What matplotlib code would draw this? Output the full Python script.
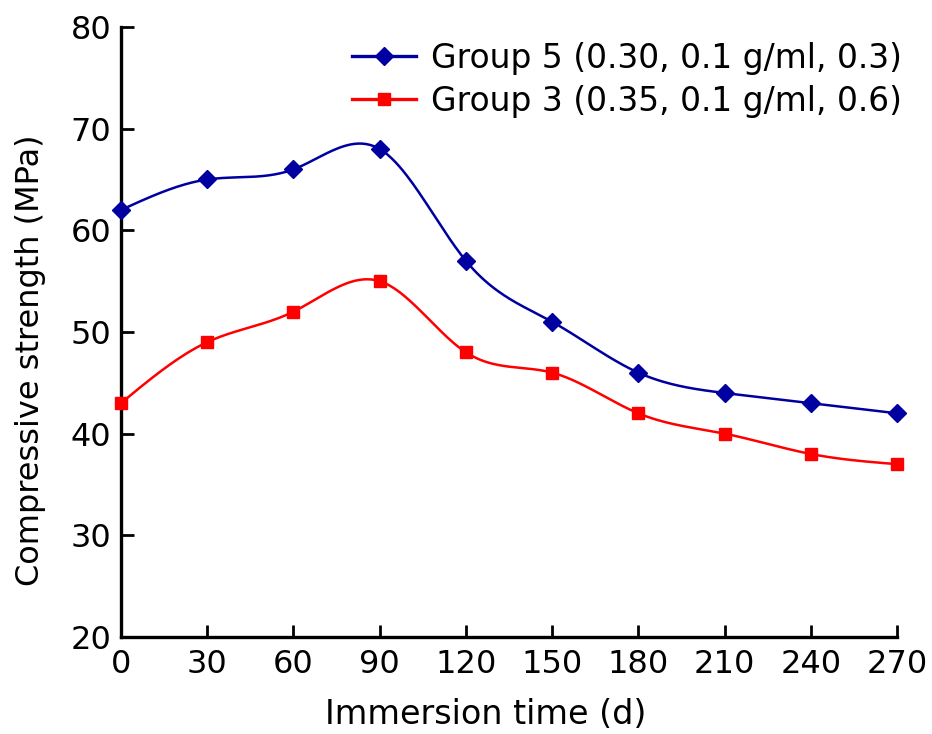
import matplotlib
matplotlib.use('Agg')
import matplotlib.pyplot as plt
import numpy as np

days = [0, 30, 60, 90, 120, 150, 180, 210, 240, 270]
group5 = [62, 65, 66, 68, 57, 51, 46, 44, 43, 42]
group3 = [43, 49, 52, 55, 48, 46, 42, 40, 38, 37]
labels = ['Group 5 (0.30, 0.1 g/ml, 0.3)', 'Group 3 (0.35, 0.1 g/ml, 0.6)']


def spline(x, y, n=400):
    # natural cubic spline, only used to draw the smooth line
    x = np.asarray(x, float)
    y = np.asarray(y, float)
    k = len(x)
    h = np.diff(x)
    A = np.zeros((k, k))
    b = np.zeros(k)
    A[0, 0] = A[-1, -1] = 1
    for i in range(1, k - 1):
        A[i, i - 1] = h[i - 1]
        A[i, i] = 2 * (h[i - 1] + h[i])
        A[i, i + 1] = h[i]
        b[i] = 6 * ((y[i + 1] - y[i]) / h[i] - (y[i] - y[i - 1]) / h[i - 1])
    m = np.linalg.solve(A, b)
    xs = np.linspace(x[0], x[-1], n)
    j = np.clip(np.searchsorted(x, xs) - 1, 0, k - 2)
    t = xs - x[j]
    hj = h[j]
    a = (m[j + 1] - m[j]) / (6 * hj)
    bb = m[j] / 2
    c = (y[j + 1] - y[j]) / hj - hj * (2 * m[j] + m[j + 1]) / 6
    ys = y[j] + c * t + bb * t ** 2 + a * t ** 3
    return xs, ys


plt.rcParams['font.family'] = ['DejaVu Sans']

fig = plt.figure(figsize=(9.32, 7.34), dpi=100)
ax = fig.add_axes([0.1298, 0.1322, 0.8327, 0.831])

blue = '#0000a0'
red = '#ff0000'

xs, ys = spline(days, group5)
ax.plot(xs, ys, color=blue, lw=1.8, zorder=2)
ax.plot(days, group5, 'D', color=blue, ms=9.5, zorder=3, clip_on=False)
xs, ys = spline(days, group3)
ax.plot(xs, ys, color=red, lw=1.8, zorder=2)
ax.plot(days, group3, 's', color=red, ms=9, zorder=3, clip_on=False)

h1, = ax.plot([], [], '-D', color=blue, lw=2.4, ms=9.5)
h2, = ax.plot([], [], '-s', color=red, lw=2.4, ms=9)
ax.legend([h1, h2], labels, loc='upper left', bbox_to_anchor=(352 / 932, 1 - 42 / 734),
          bbox_transform=fig.transFigure, borderaxespad=0, borderpad=0,
          frameon=False, fontsize=23.7, handlelength=1.95, handletextpad=0.45,
          labelspacing=0.3)

ax.set_xlim(0, 270)
ax.set_ylim(20, 80)
ax.set_xticks(days)
ax.set_yticks(range(20, 81, 10))
for s in ['top', 'right']:
    ax.spines[s].set_visible(False)
for s in ['left', 'bottom']:
    ax.spines[s].set_linewidth(2.4)
ax.tick_params(direction='in', length=9, width=2, labelsize=23)
ax.tick_params(axis='x', pad=9)
ax.tick_params(axis='y', pad=7)
ax.set_xlabel('Immersion time (d)', fontsize=24)
ax.set_ylabel('Compressive strength (MPa)', fontsize=23)
ax.xaxis.set_label_coords(0.47, -0.1)
ax.yaxis.set_label_coords(-0.096, 0.454)

fig.savefig('out.png', dpi=100)
